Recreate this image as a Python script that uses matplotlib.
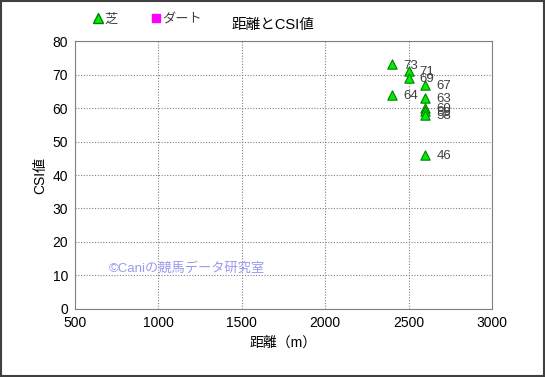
import matplotlib
matplotlib.use("Agg")
import matplotlib.pyplot as plt
from matplotlib.lines import Line2D

plt.rcParams['font.family'] = ['Liberation Sans', 'Noto Sans CJK JP', 'DejaVu Sans']

# 芝 data: distance (m) and CSI value
turf_dist = [2400, 2500, 2500, 2600, 2400, 2600, 2600, 2600, 2600, 2600]
turf_csi = [73, 71, 69, 67, 64, 63, 60, 59, 58, 46]
# ダート: no points
dirt_dist = []
dirt_csi = []

fig = plt.figure(figsize=(5.45, 3.77), dpi=100)
ax = fig.add_axes([0.1376, 0.1804, 0.7652, 0.7108])

ax.scatter(turf_dist, turf_csi, marker='^', s=45, color='#00ee00',
           edgecolors='#008000', linewidths=0.8, zorder=3)
ax.scatter(dirt_dist, dirt_csi, marker='s', s=40, color='#ff00ff', zorder=3)
for x, y in zip(turf_dist, turf_csi):
    ax.annotate(str(y), (x, y), xytext=(8, -3), textcoords='offset points',
                fontsize=9.5, color='#404040', zorder=4)

ax.set_xlim(500, 3000)
ax.set_ylim(0, 80)
ax.set_xticks(range(500, 3001, 500))
ax.set_yticks(range(0, 81, 10))
ax.tick_params(labelsize=10, length=0, pad=5)
ax.grid(True, color='#808080', linestyle=(0, (1, 1.5)), linewidth=0.8)
for s in ax.spines.values():
    s.set_color('#808080')

ax.set_xlabel('距離（m）', fontsize=10)
ax.set_ylabel('CSI値', fontsize=10)

fig.text(0.5, 0.935, '距離とCSI値', fontsize=10.5, ha='center', va='center')

handles = [Line2D([], [], marker='^', linestyle='none', color='#00ee00',
                  markeredgecolor='#008000', markersize=7),
           Line2D([], [], marker='s', linestyle='none', color='#ff00ff',
                  markeredgecolor='#ff00ff', markersize=6)]
fig.legend(handles, ['芝', 'ダート'], loc='center', bbox_to_anchor=(0.27, 0.947),
           ncol=2, frameon=False, fontsize=9.5, handletextpad=0.1,
           columnspacing=2.5, handlelength=0.8, labelcolor='#404040')

ax.text(700, 11, '©Caniの競馬データ研究室', fontsize=9.5, color='#9999ee', zorder=2)

fig.patches.append(plt.Rectangle((0.002, 0.003), 0.996, 0.994, transform=fig.transFigure,
                                 fill=False, edgecolor='#404040', linewidth=1.5))

fig.savefig('out.png', dpi=100)
